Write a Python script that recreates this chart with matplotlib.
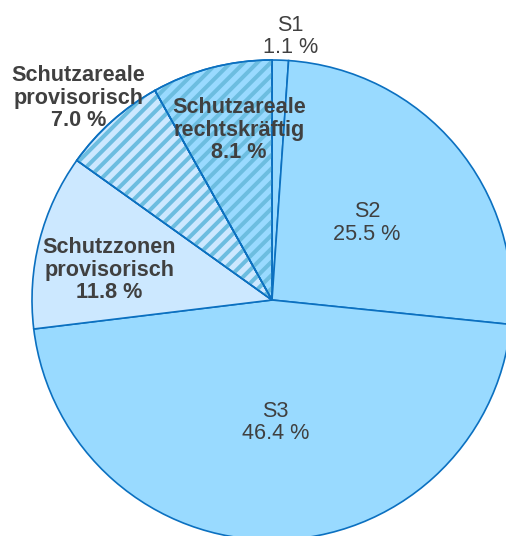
import numpy as np
import matplotlib
matplotlib.use("Agg")
import matplotlib.pyplot as plt
from matplotlib.patches import Wedge

# Anteile (%) im Uhrzeigersinn ab 12 Uhr
names = ["S1", "S2", "S3", "Schutzzonen\nprovisorisch",
         "Schutzareale\nprovisorisch", "Schutzareale\nrechtskräftig"]
shares = [1.1, 25.5, 46.4, 11.8, 7.0, 8.1]
bold = [False, False, False, True, True, True]
hatched = [False, False, False, False, True, True]

blue = "#99DAFF"
pale = "#CCE8FF"
colors = [blue, blue, blue, pale, pale, blue]
edge = "#0B70C0"
stripe = "#6CBDE0"
text_col = "#404040"

# label placement: distance from centre and angle shift (deg)
label_r = [1.10, 0.51, 0.51, 0.69, 1.165, 0.72]
label_dt = [-2.0, -1.0, 1.2, 4.0, 2.0, -3.6]

plt.rcParams["font.family"] = ["Liberation Sans", "DejaVu Sans"]
plt.rcParams["hatch.linewidth"] = 2.4

fig = plt.figure(figsize=(506 / 120, 536 / 120), dpi=120)
ax = fig.add_axes([32 / 506, -4 / 536, 480 / 506, 480 / 536])

wedges, _ = ax.pie(shares, colors=colors, startangle=90, counterclock=False,
                   wedgeprops=dict(edgecolor=edge, linewidth=1.0))
for w in wedges:
    w.set_clip_on(False)

# hatch overlay in a lighter stripe colour
for w, h in zip(wedges, hatched):
    if h:
        ov = Wedge(w.center, w.r, w.theta1, w.theta2, facecolor="none",
                   edgecolor=stripe, linewidth=0, hatch="///", zorder=w.get_zorder() + 0.1)
        ax.add_patch(ov)
        # redraw outline on top
        ol = Wedge(w.center, w.r, w.theta1, w.theta2, facecolor="none",
                   edgecolor=edge, linewidth=1.0, zorder=w.get_zorder() + 0.2, clip_on=False)
        ax.add_patch(ol)

for w, name, share, b, r, dt in zip(wedges, names, shares, bold, label_r, label_dt):
    ang = np.deg2rad((w.theta1 + w.theta2) / 2 + dt)
    ax.text(r * np.cos(ang), r * np.sin(ang), f"{name}\n{share:.1f} %",
            ha="center", va="center", fontsize=13, color=text_col,
            fontweight="bold" if b else "normal", linespacing=1.1, zorder=5)

ax.set_xlim(-1, 1)
ax.set_ylim(-1, 1)
ax.set_aspect("equal")
ax.axis("off")

fig.savefig("out.png", dpi=120)
